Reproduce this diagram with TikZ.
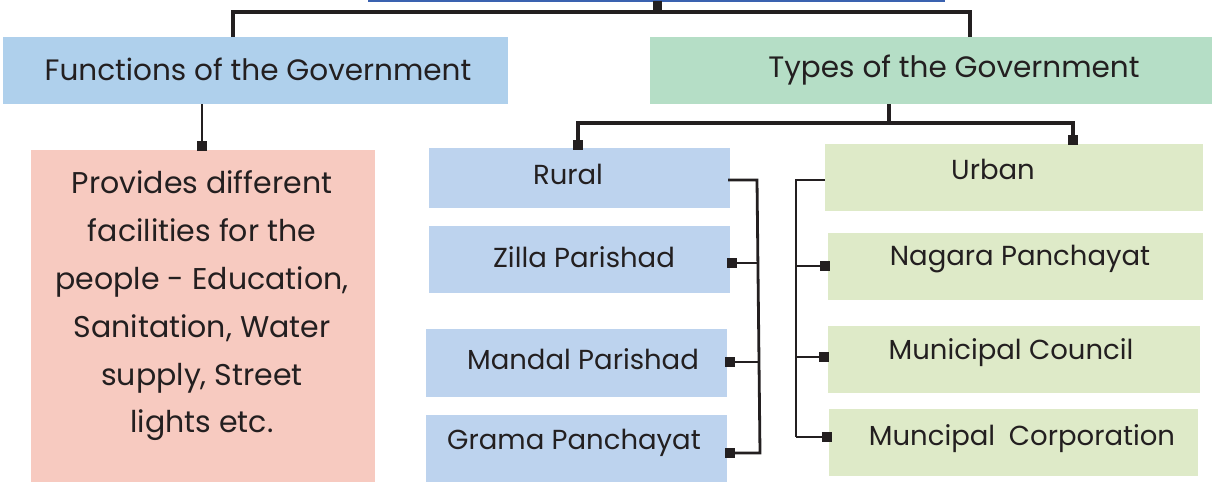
\documentclass[tikz,border=0pt]{standalone}
\usepackage{fontspec}
\setmainfont{Poppins}
\definecolor{funblue}{HTML}{AFD0EC}
\definecolor{typgreen}{HTML}{B5DEC6}
\definecolor{pinkbox}{HTML}{F7CAC0}
\definecolor{ruralblue}{HTML}{BDD3EE}
\definecolor{urbangreen}{HTML}{DEEAC8}
\definecolor{topblue}{HTML}{3A62B0}
\definecolor{ink}{HTML}{231F20}
\begin{document}
\begin{tikzpicture}[x=1pt,y=-1pt,
  box/.style={draw=none,inner sep=0pt,anchor=north west},
  txt/.style={font=\fontsize{27.5}{32}\selectfont, text=ink, inner sep=0pt},
  head/.style={font=\fontsize{29.5}{34}\selectfont, text=ink, inner sep=0pt},
  conn/.style={line width=2.8pt, draw=ink},
  sq/.style={fill=ink, minimum size=10pt, inner sep=0pt, draw=none}]
\useasboundingbox (0,0) rectangle (1212,482);
% top cut-off box edge
\draw[topblue, line width=2pt] (368,0.5) -- (945,0.5);
% boxes
\node[box, fill=funblue, minimum width=505pt, minimum height=67pt] (fun) at (3,37) {};
\node[box, fill=typgreen, minimum width=562pt, minimum height=67pt] (typ) at (650,37) {};
\node[box, fill=pinkbox, minimum width=344pt, minimum height=332pt] (fac) at (31,150) {};
\node[box, fill=ruralblue, minimum width=301pt, minimum height=60pt] (rur) at (429,148) {};
\node[box, fill=ruralblue, minimum width=301pt, minimum height=67pt] (zil) at (429,226) {};
\node[box, fill=ruralblue, minimum width=301pt, minimum height=68pt] (man) at (426,329) {};
\node[box, fill=ruralblue, minimum width=301pt, minimum height=67pt] (gra) at (426,415) {};
\node[box, fill=urbangreen, minimum width=378pt, minimum height=67pt] (urb) at (825,144) {};
\node[box, fill=urbangreen, minimum width=375pt, minimum height=67pt] (nag) at (828,233) {};
\node[box, fill=urbangreen, minimum width=372pt, minimum height=67pt] (mcl) at (828,326) {};
\node[box, fill=urbangreen, minimum width=369pt, minimum height=67pt] (mcp) at (829,409) {};
% texts
\node[head] (fun-t) at (258,69) {Functions of the Government};
\node[head] (typ-t) at (954,70) {Types of the Government};
\node[txt, align=center, font=\fontsize{30}{47.8}\selectfont] (fac-t) at (202,306) {Provides different\\facilities for the\\people - Education,\\Sanitation, Water\\supply, Street\\lights etc.};
\node[txt] (rur-t) at (568,174) {Rural};
\node[txt] (zil-t) at (584,257) {Zilla Parishad};
\node[txt] (man-t) at (583,359) {Mandal Parishad};
\node[txt] (gra-t) at (574,443) {Grama Panchayat};
\node[txt] (urb-t) at (993,169) {Urban};
\node[txt] (nag-t) at (1020,259) {Nagara Panchayat};
\node[txt] (mcl-t) at (1011,353) {Municipal Council};
\node[txt] (mcp-t) at (1022,439) {Muncipal\hspace{0.5em}Corporation};
% top bracket
\coordinate (tl) at (233,12);
\coordinate (tr) at (970,12);
\coordinate (tc) at (657,12);
\draw[conn, line width=3.4pt] (fun.north -| tl) |- (tr) -- (typ.north -| tr);
\node[sq, minimum width=9pt, minimum height=10pt] (tsq) at (657,6) {};
\draw[conn, line width=3.4pt] (tsq) -- (tc);
% functions connector
\coordinate (fsq-c) at (202,146);
\draw[conn] (fun.south -| fsq-c) -- (fsq-c);
\node[sq] (fsq) at (202,146) {};
% types bracket
\coordinate (ty1) at (889,123);
\coordinate (tyl) at (578,123);
\coordinate (tyr) at (1073,123);
\draw[conn, line width=3.4pt] (typ.south -| ty1) -- (ty1);
\draw[conn, line width=3.4pt] (tyl |- rur.north) |- (tyr) -- (tyr |- urb.north);
\node[sq] (rsq) at (578,145) {};
\node[sq] (usq) at (1073,140) {};
% rural bracket
\coordinate (rv1) at (757,180);
\coordinate (rv2) at (760,453);
\draw[conn] (728,180) -- (rv1) -- (rv2) -- (730,453);
\node[sq] (zsq) at (732,263) {};
\node[sq] (msq) at (730,362) {};
\node[sq] (gsq) at (730,453) {};
\draw[conn] (zsq) -- (758,263);
\draw[conn] (msq) -- (759,362);
\draw[conn] (gsq) -- (rv2);
% urban bracket
\coordinate (uv1) at (796,180);
\coordinate (uv2) at (796,437);
\draw[conn] (urb.west |- uv1) -- (uv1) -- (uv2);
\node[sq] (nsq) at (825,266) {};
\node[sq] (csq) at (824,357) {};
\node[sq] (psq) at (827,437) {};
\draw[conn] (796,266) -- (nsq);
\draw[conn] (796,357) -- (csq);
\draw[conn] (uv2) -- (psq);
\end{tikzpicture}
\end{document}
